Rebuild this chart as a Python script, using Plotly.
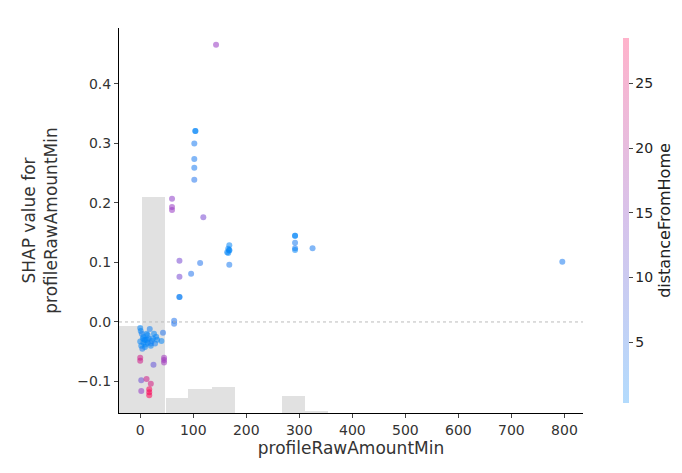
import plotly.graph_objects as go

# feature value, shap value, colouring feature (distanceFromHome)
raw_amount = [143, 104, 104, 102, 102, 102, 102, 60, 60, 60, 119, 74, 113, 74, 96, 74, 74, 64, 64,
              166, 168, 166, 168, 164, 168, 168, 292, 292, 292, 292, 292, 325, 796,
              0, 1, 3, 6, 8, 12, 14, 16, 20, 22, 4, 10, 18, 0, 2, 6, 10, 14, 24, 28, 30, 32, 40, 5, 9, 13, 20, 26,
              0, 0, 45, 45, 45, 25, 2, 12, 20, 2, 17, 17, 17, 43]
shap_vals = [0.466, 0.321, 0.321, 0.30, 0.274, 0.259, 0.239, 0.207, 0.193, 0.188, 0.176, 0.103, 0.099, 0.076, 0.081, 0.042, 0.042, 0.002, -0.003,
             0.116, 0.129, 0.123, 0.120, 0.117, 0.121, 0.096, 0.145, 0.145, 0.133, 0.124, 0.121, 0.124, 0.101,
             -0.01, -0.015, -0.02, -0.025, -0.03, -0.02, -0.035, -0.028, -0.04, -0.032, -0.045, -0.038, -0.012, -0.033, -0.04, -0.035, -0.03, -0.022, -0.028, -0.036, -0.025, -0.03, -0.032, -0.028, -0.042, -0.03, -0.036, -0.02,
             -0.06, -0.065, -0.06, -0.064, -0.068, -0.072, -0.098, -0.096, -0.104, -0.116, -0.113, -0.118, -0.123, -0.018]
distance = [15, 1, 1, 3, 3, 3, 4, 14, 15, 15, 12, 12, 4, 12, 4, 2, 2, 4, 4,
            1, 1, 1, 1, 1, 1, 3, 1, 1, 3, 3, 1, 3, 3,
            1, 1, 2, 1, 1, 1, 1, 2, 1, 1, 3, 1, 2, 1, 1, 1, 1, 1, 1, 2, 1, 1, 1, 1, 1, 1, 2, 1,
            22, 22, 16, 16, 16, 10, 11, 22, 23, 15, 28, 28, 28, 4]

hist_centers = [-19, 25, 70, 113, 157, 289, 332]
hist_counts = [40, 100, 7, 11, 12, 8, 1]

red_blue = [[0, "rgb(0,138,250)"], [0.5, "rgb(146,60,200)"], [1, "rgb(255,0,82)"]]
red_blue_pale = [[0, "rgb(179,219,253)"], [0.5, "rgb(215,195,235)"], [1, "rgb(255,179,203)"]]

fig = go.Figure()
fig.add_trace(go.Bar(x=hist_centers, y=hist_counts, width=44, yaxis="y",
                     marker=dict(color="rgb(225,225,225)", line_width=0), hoverinfo="skip"))
fig.add_trace(go.Scatter(x=raw_amount, y=shap_vals, mode="markers", yaxis="y2",
                         marker=dict(size=6, color=distance, colorscale=red_blue, cmin=0.3, cmax=28.5,
                                     opacity=0.55, line_width=0, showscale=False)))
# colorbar only (pale, like the alpha-blended one)
fig.add_trace(go.Scatter(x=[None], y=[None], mode="markers", yaxis="y2",
                         marker=dict(color=[0.3], colorscale=red_blue_pale, cmin=0.3, cmax=28.5, showscale=True,
                                     colorbar=dict(x=1.065, xanchor="left", y=0.5, len=1, thickness=6,
                                                   outlinewidth=0, ticks="outside", ticklen=4,
                                                   tickvals=[5, 10, 15, 20, 25],
                                                   tickfont=dict(size=14, color="#222"),
                                                   title=dict(text="distanceFromHome", side="right",
                                                              font=dict(size=16, color="#222"))))))

fig.add_shape(type="line", xref="paper", yref="y2", x0=0, x1=1, y0=0, y1=0,
              line=dict(color="#bbb", width=1, dash="dot"))

fig.update_layout(
    width=682, height=473, margin=dict(l=111, r=107, t=20, b=68, autoexpand=False),
    plot_bgcolor="white", paper_bgcolor="white", showlegend=False, bargap=0,
    font=dict(family="DejaVu Sans", color="#333"),
    xaxis=dict(range=[-40, 835], tickvals=list(range(0, 801, 100)), showgrid=False, zeroline=False,
               showline=True, linecolor="black", ticks="outside", ticklen=4, tickfont=dict(size=14),
               automargin=False,
               title=dict(text="profileRawAmountMin", font=dict(size=17), standoff=4)),
    yaxis=dict(range=[0, 178], visible=False),
    yaxis2=dict(overlaying="y", side="left", range=[-0.153, 0.494], tickvals=[-0.1, 0, 0.1, 0.2, 0.3, 0.4],
                tickformat=".1f", showgrid=False, zeroline=False, showline=True, linecolor="black",
                ticks="outside", ticklen=4, tickfont=dict(size=14), automargin=False,
                title=dict(text="SHAP value for<br>profileRawAmountMin", font=dict(size=17))),
)
fig.write_html("out.html")
